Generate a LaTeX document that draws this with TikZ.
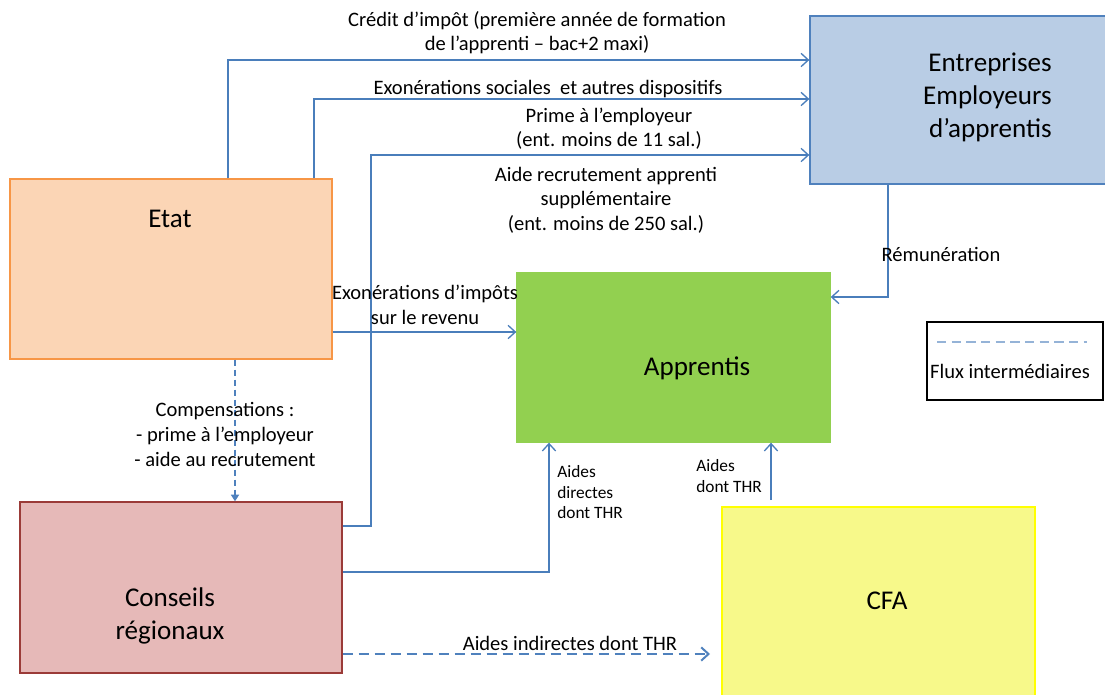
\documentclass[tikz,border=0pt]{standalone}
\usepackage{fontspec}
\setmainfont{Carlito}
\usetikzlibrary{arrows.meta,fit}

\definecolor{etatfill}{HTML}{FBD5B5}
\definecolor{etatline}{HTML}{F79646}
\definecolor{entrfill}{HTML}{B9CDE5}
\definecolor{entrline}{HTML}{4F81BD}
\definecolor{apprfill}{HTML}{92D050}
\definecolor{consfill}{HTML}{E6B9B8}
\definecolor{consline}{HTML}{9B3B38}
\definecolor{cfafill}{HTML}{F7F98A}
\definecolor{cfaline}{HTML}{FFFF00}
\definecolor{flowblue}{HTML}{4A7EBB}
\definecolor{dashblue}{HTML}{4F81BD}
\definecolor{legblue}{HTML}{95B3D7}

\tikzset{
  box/.style={rectangle, inner sep=0pt, line width=1pt},
  title/.style={font=\fontsize{20.3}{24.8}\selectfont, inner sep=0pt},
  lbl/.style={font=\fontsize{15.4}{18.4}\selectfont, inner sep=0pt, align=center},
  small/.style={font=\fontsize{13}{15.4}\selectfont, inner sep=0pt, align=left},
  flow/.style={draw=flowblue, line width=1pt, -{Straight Barb[length=5.5pt,width=10pt]}},
  dflow/.style={draw=dashblue, line width=1.5pt, dash pattern=on 4.5pt off 3pt,
    -{Triangle[length=5pt,width=6pt]}},
  iflow/.style={draw=dashblue, line width=1.5pt, dash pattern=on 7.5pt off 4.5pt,
    -{Straight Barb[length=5.5pt,width=10pt]}},
  legdash/.style={draw=legblue, line width=1.5pt, dash pattern=on 7pt off 4pt},
}

\begin{document}
\begin{tikzpicture}[x=0.75pt,y=-0.75pt]
\useasboundingbox (0,0) rectangle (1105,695);

% actors
\node[box, draw=etatline, fill=etatfill, fit={(10,179) (332,359)}] (etat) {};
\node[box, draw=entrline, fill=entrfill, fit={(810,16) (1120,184)}] (entr) {};
\node[box, draw=apprfill, fill=apprfill, fit={(517,273) (830,442)}] (appr) {};
\node[box, draw=consline, fill=consfill, fit={(20,502) (342,673)}] (cons) {};
\node[box, draw=cfaline, fill=cfafill, fit={(722,507) (1035,700)}] (cfa) {};
\node[box, draw=black, fit={(927,322) (1103,400)}] (legend) {};

\node[title] (tEtat) at (170,219) {Etat};
\node[title, align=right, anchor=east] (tEntr) at (1052,97.5) {Entreprises\\Employeurs\\d’apprentis};
\node[title] (tAppr) at (697,368) {Apprentis};
\node[title, align=center] (tCons) at (170,616) {Conseils\\régionaux};
\node[title] (tCfa) at (887,601) {CFA};

% legend
\coordinate (lg1) at (937,342);
\coordinate (lg2) at (1087,342);
\draw[legdash] (lg1) -- (lg2);
\node[lbl] (tLeg) at (1010,371) {Flux intermédiaires};

% bend points of the flows
\coordinate (k1) at (228,60);
\coordinate (k2) at (314,99);
\coordinate (k3) at (371,155);
\coordinate (k3b) at (371,526);
\coordinate (k4) at (0,332);
\coordinate (k5) at (235,0);
\coordinate (k6) at (549,572);
\coordinate (k7) at (771,500);
\coordinate (k8) at (888,297);
\coordinate (k9) at (710,654);

% flows
\draw[flow] (etat.north -| k1) |- (entr.west |- k1);
\draw[flow] (etat.north -| k2) |- (entr.west |- k2);
\draw[flow] (cons.east |- k3b) -- (k3b) -- (k3) -- (entr.west |- k3);
\draw[flow] (etat.east |- k4) -- (appr.west |- k4);
\draw[dflow] (etat.south -| k5) -- (cons.north -| k5);
\draw[flow] (cons.east |- k6) -| (appr.south -| k6);
\draw[flow] (k7) -- (appr.south -| k7);
\draw[flow] (entr.south -| k8) |- (appr.east |- k8);
\draw[iflow] (cons.east |- k9) -- (k9);

% flow labels
\node[lbl] (l1) at (537,32.5) {Crédit d’impôt (première année de formation\\de l’apprenti – bac+2 maxi)};
\node[lbl] (l2) at (548,89) {Exonérations sociales\ \ et autres dispositifs};
\node[lbl] (l3) at (609,128.5) {Prime à l’employeur\\(ent. moins de 11 sal.)};
\node[lbl] (l4) at (606,200) {Aide recrutement apprenti\\supplémentaire\\(ent. moins de 250 sal.)};
\node[lbl] (l5) at (425,305) {Exonérations d’impôts\\sur le revenu};
\node[lbl] (l6) at (941,254) {Rémunération};
\node[lbl] (l7) at (225,434.5) {Compensations :\\- prime à l’employeur\\- aide au recrutement};
\node[small, anchor=west] (l8) at (557,492.5) {Aides\\directes\\dont THR};
\node[small, anchor=west] (l9) at (696,476) {Aides\\dont THR};
\node[lbl] (l10) at (570,643) {Aides indirectes dont THR};
\end{tikzpicture}
\end{document}
